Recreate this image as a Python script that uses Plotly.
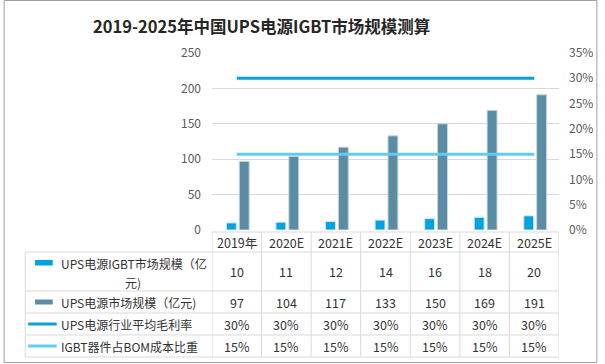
import plotly.graph_objects as go

# ---------------- data ----------------
years = ["2019年", "2020E", "2021E", "2022E", "2023E", "2024E", "2025E"]
igbt_market = [10, 11, 12, 14, 16, 18, 20]
ups_market = [97, 104, 117, 133, 150, 169, 191]
gross_margin = [0.30, 0.30, 0.30, 0.30, 0.30, 0.30, 0.30]
igbt_bom_share = [0.15, 0.15, 0.15, 0.15, 0.15, 0.15, 0.15]

series_names = ["UPS电源IGBT市场规模（亿元)", "UPS电源市场规模（亿元)",
                "UPS电源行业平均毛利率", "IGBT器件占BOM成本比重"]
title_text = "2019-2025年中国UPS电源IGBT市场规模测算"

left_ticks = [0, 50, 100, 150, 200, 250]
right_ticks = [0, 0.05, 0.10, 0.15, 0.20, 0.25, 0.30, 0.35]

# ---------------- styling ----------------
W, H = 605, 364
L, R, T, B = 212, 40, 53, 134
PW, PH = W - L - R, H - T - B
C_IGBT = "#00A2DF"
C_UPS = "#5A8CA4"
C_GM = "#0AA0D8"
C_BOM = "#62CBF2"
GRID = "#D9D9D9"
TXT = "#333333"
FONT = "Noto Sans CJK SC"


def px(x):
    return (x - L) / PW


def py(y):
    return (H - B - y) / PH


xs = list(range(len(years)))

fig = go.Figure()
fig.add_trace(go.Bar(x=xs, y=igbt_market, name=series_names[0], width=0.2, offset=-0.21,
                     marker=dict(color=C_IGBT, line=dict(color="#D6E4EA", width=1))))
fig.add_trace(go.Bar(x=xs, y=ups_market, name=series_names[1], width=0.2, offset=0.05,
                     marker=dict(color=C_UPS, line=dict(color="#C9D6DD", width=1))))
fig.add_trace(go.Scatter(x=xs, y=gross_margin, name=series_names[2], yaxis="y2", mode="lines",
                         line=dict(color=C_GM, width=3)))
fig.add_trace(go.Scatter(x=xs, y=igbt_bom_share, name=series_names[3], yaxis="y2", mode="lines",
                         line=dict(color=C_BOM, width=3)))

shapes = []
annotations = []

# table grid
row_lines = [232, 252, 291, 313, 335, 357]
x_left_label = 22
x_div = 212
x_right = 565
shapes.append(dict(type="line", xref="paper", yref="paper", x0=px(x_div), x1=px(x_right),
                   y0=py(row_lines[0]), y1=py(row_lines[0]), line=dict(color=GRID, width=1)))
for yl in row_lines[1:]:
    shapes.append(dict(type="line", xref="paper", yref="paper", x0=px(x_left_label), x1=px(x_right),
                       y0=py(yl), y1=py(yl), line=dict(color=GRID, width=1)))
shapes.append(dict(type="line", xref="paper", yref="paper", x0=px(x_left_label), x1=px(x_left_label),
                   y0=py(row_lines[1]), y1=py(row_lines[-1]), line=dict(color=GRID, width=1)))
for i in range(len(years) + 1):
    shapes.append(dict(type="line", xref="x", yref="paper", x0=i - 0.5, x1=i - 0.5,
                       y0=py(row_lines[0]), y1=py(row_lines[-1]), line=dict(color=GRID, width=1)))

hdr_y = (row_lines[0] + row_lines[1]) / 2
for i, yr in enumerate(years):
    annotations.append(dict(x=i, y=py(hdr_y), xref="x", yref="paper", text=yr, showarrow=False,
                            font=dict(family=FONT, size=12.5, color=TXT), xanchor="center", yanchor="middle"))

rows = [igbt_market, ups_market,
        [f"{v:.0%}" for v in gross_margin], [f"{v:.0%}" for v in igbt_bom_share]]
for r, vals in enumerate(rows):
    cy = (row_lines[r + 1] + row_lines[r + 2]) / 2
    for i, v in enumerate(vals):
        annotations.append(dict(x=i, y=py(cy), xref="x", yref="paper", text=str(v), showarrow=False,
                                font=dict(family=FONT, size=12.5, color=TXT), xanchor="center",
                                yanchor="middle"))

lbl_font = dict(family=FONT, size=12, color=TXT)
annotations.append(dict(x=px(56), y=py(263), xref="paper", yref="paper", text="UPS电源IGBT市场规模（亿",
                        showarrow=False, font=lbl_font, xanchor="left", yanchor="middle"))
annotations.append(dict(x=px(132), y=py(282), xref="paper", yref="paper", text="元)",
                        showarrow=False, font=lbl_font, xanchor="center", yanchor="middle"))
for r, name in zip([1, 2, 3], series_names[1:]):
    cy = (row_lines[r + 1] + row_lines[r + 2]) / 2
    annotations.append(dict(x=px(56), y=py(cy), xref="paper", yref="paper", text=name,
                            showarrow=False, font=lbl_font, xanchor="left", yanchor="middle"))

shapes.append(dict(type="rect", xref="paper", yref="paper", x0=px(32), x1=px(50), y0=py(265.5), y1=py(260),
                   fillcolor=C_IGBT, line=dict(width=0)))
cy2 = (row_lines[2] + row_lines[3]) / 2
shapes.append(dict(type="rect", xref="paper", yref="paper", x0=px(32), x1=px(50), y0=py(cy2 + 2.5),
                   y1=py(cy2 - 2.5), fillcolor=C_UPS, line=dict(width=0)))
for r, col in [(3, C_GM), (4, C_BOM)]:
    cy = (row_lines[r] + row_lines[r + 1]) / 2
    shapes.append(dict(type="line", xref="paper", yref="paper", x0=px(25), x1=px(54), y0=py(cy), y1=py(cy),
                       line=dict(color=col, width=3)))

shapes.append(dict(type="rect", xref="paper", yref="paper", x0=px(0.5), x1=px(W - 1.5), y0=py(H - 1.5),
                   y1=py(0.5), line=dict(color="#A0A0A0", width=1), fillcolor="rgba(0,0,0,0)", layer="above"))

annotations.append(dict(x=px(262), y=py(26), xref="paper", yref="paper", text="<b>" + title_text + "</b>",
                        showarrow=False, font=dict(family=FONT, size=16.5, color="#262626"),
                        xanchor="center", yanchor="middle"))

fig.update_layout(
    width=W, height=H,
    margin=dict(l=L, r=R, t=T, b=B, pad=0),
    paper_bgcolor="white", plot_bgcolor="white",
    showlegend=False,
    barmode="overlay",
    font=dict(family=FONT, color="#595959", size=12),
    xaxis=dict(range=[-0.5, len(years) - 0.5], showticklabels=False, showgrid=False, zeroline=False,
               showline=False, ticks=""),
    yaxis=dict(range=[0, 250], tickvals=left_ticks, showgrid=True, gridcolor=GRID, gridwidth=1,
               zeroline=False, showline=False, ticklabelstandoff=10,
               tickfont=dict(family=FONT, size=12, color="#595959")),
    yaxis2=dict(range=[0, 0.35], tickvals=right_ticks, tickformat=".0%", overlaying="y", side="right",
                showgrid=False, zeroline=False, showline=False, ticklabelstandoff=9,
                tickfont=dict(family=FONT, size=12, color="#595959")),
    shapes=shapes,
    annotations=annotations,
)

fig.write_html("out.html", config={"displayModeBar": False},
               post_script="document.body.style.margin='0';document.body.style.overflow='hidden';")
